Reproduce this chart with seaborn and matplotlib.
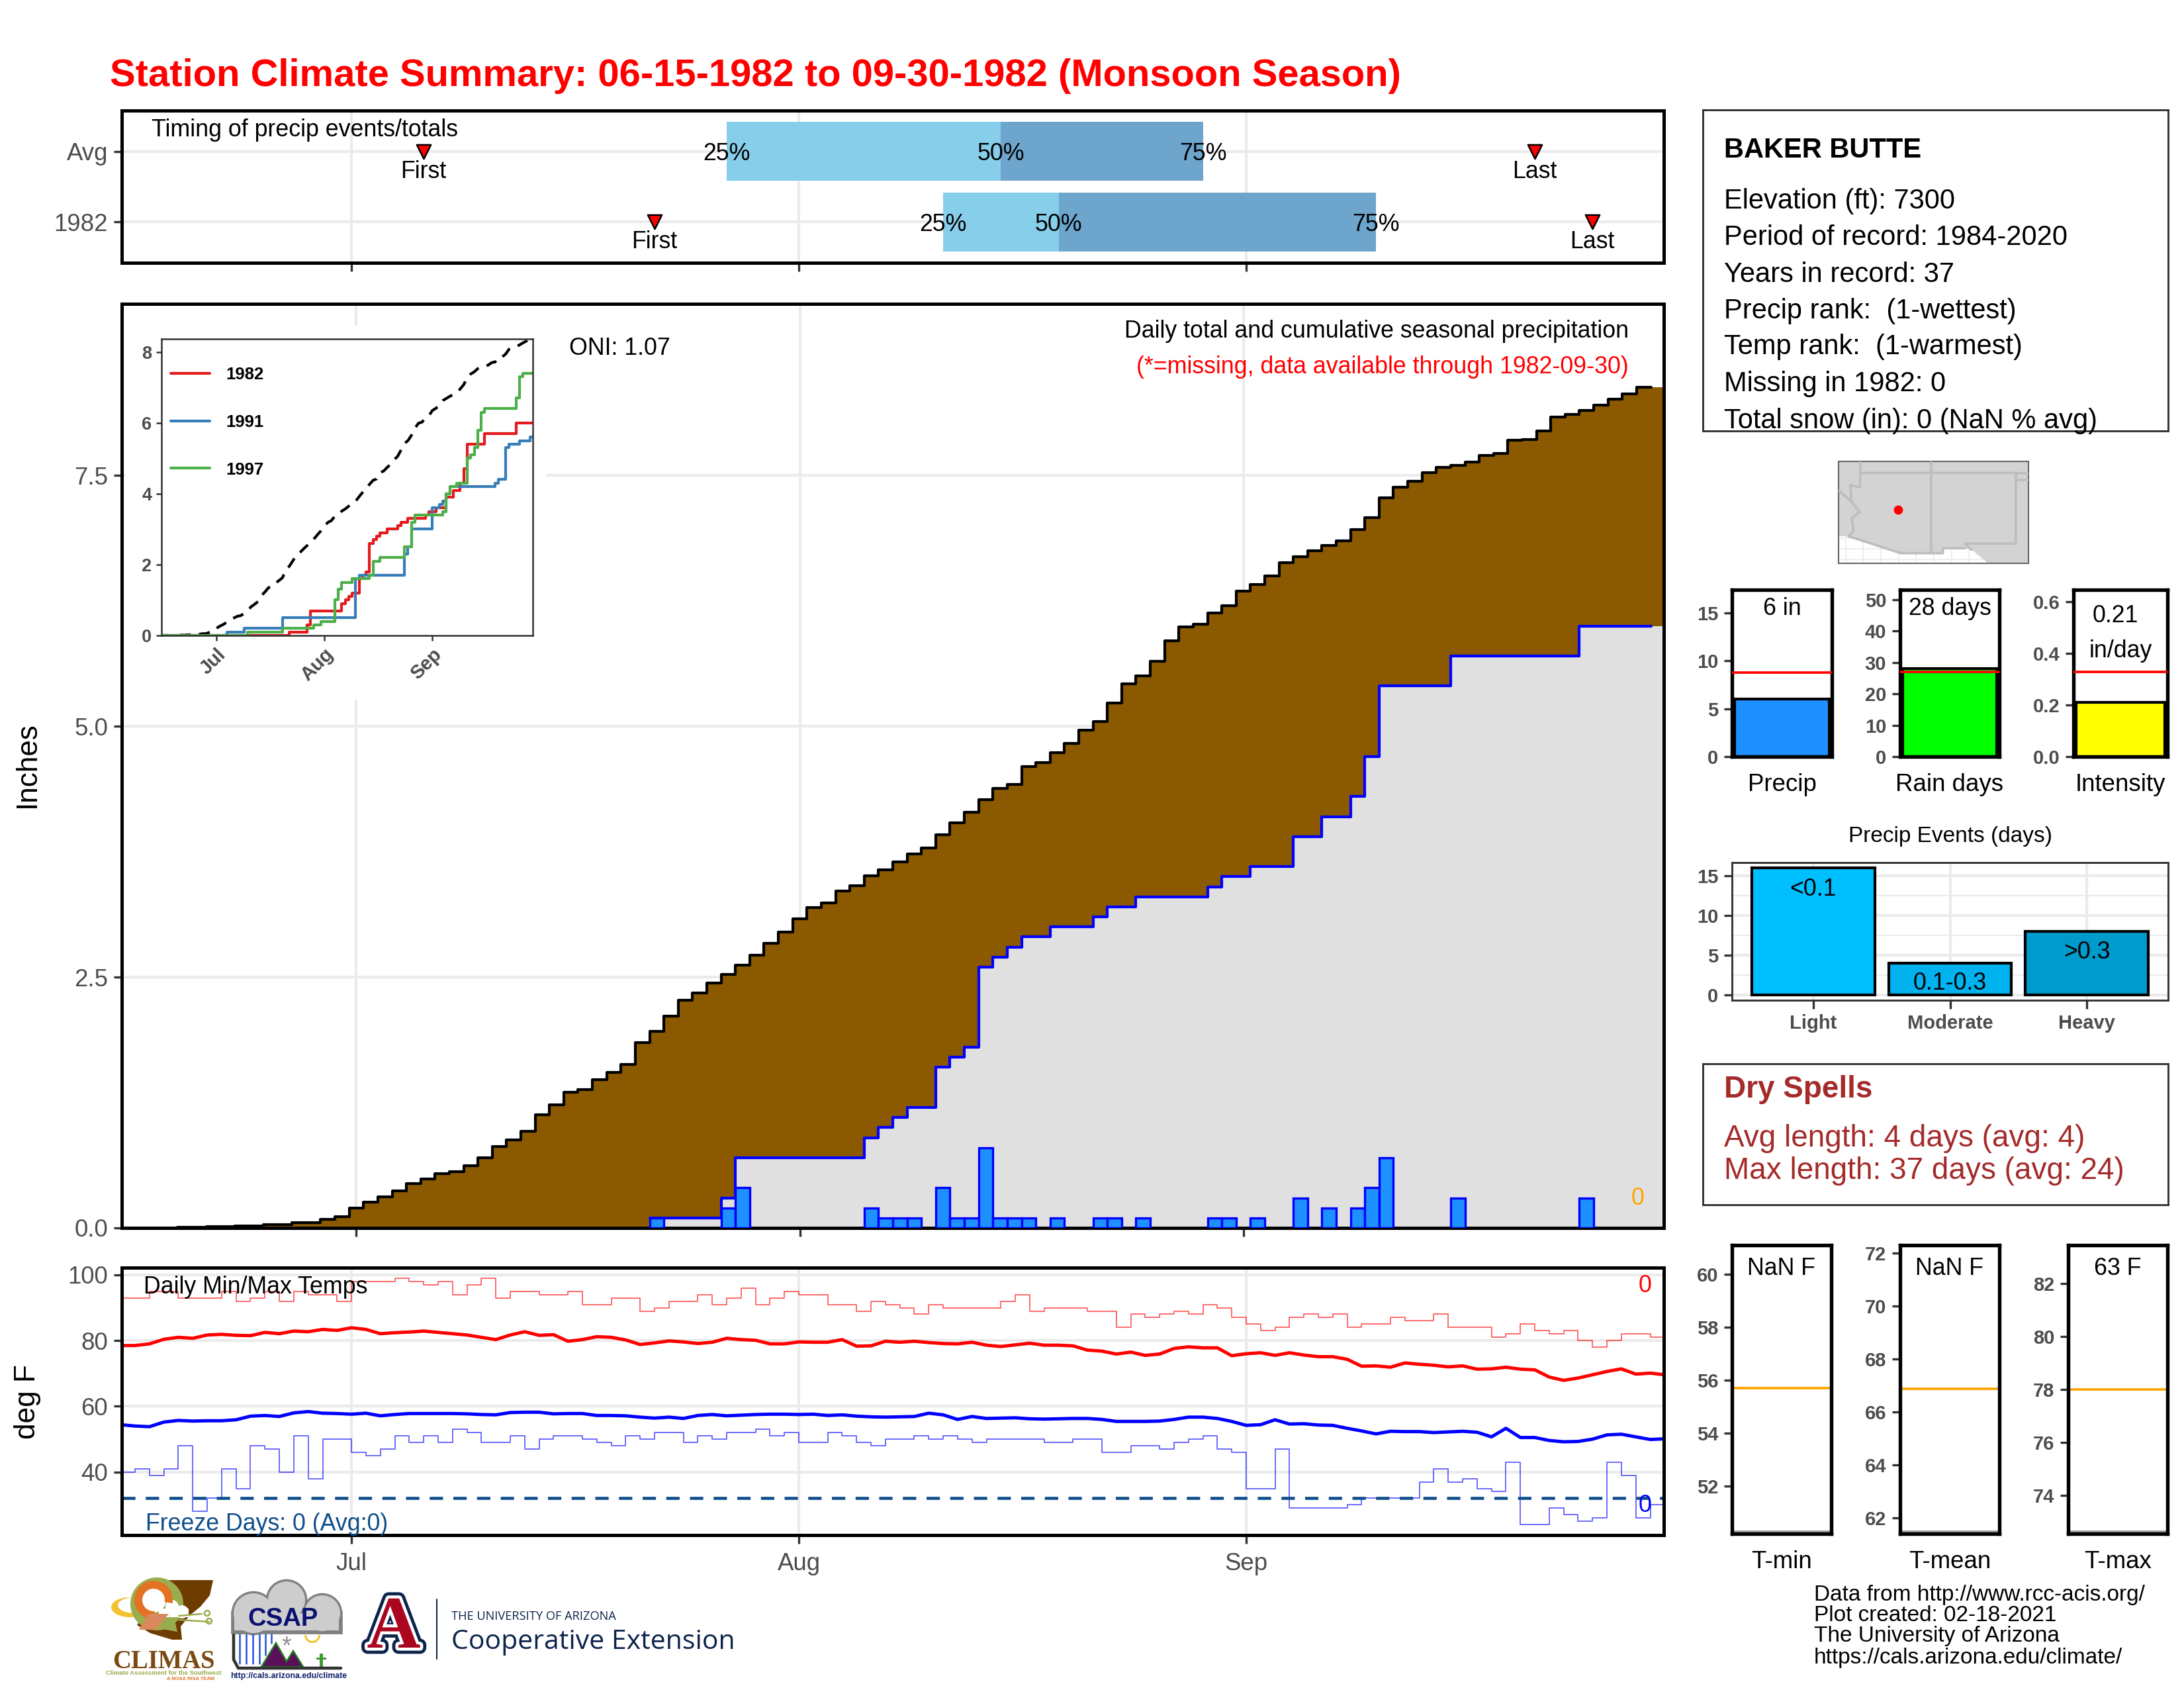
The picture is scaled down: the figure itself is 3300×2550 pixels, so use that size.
#Station climate summary for one monsoon season
import numpy as np
import pandas as pd
import matplotlib.pyplot as plt
import matplotlib.patheffects as pe
from matplotlib.patches import Circle, Ellipse, Polygon, Rectangle, Wedge
import seaborn as sns

#Season days, Jun 15 = day 0
days = np.arange(108)
month_ticks = [16, 47, 78]
month_labels = ["Jul", "Aug", "Sep"]

#Average cumulative precip (inches), one value per day
avg_cum = [0, 0, 0, 0, .005, .005, .01, .01, .02, .02,
           .035, .035, .05, .05, .085, .11, .20, .26, .31, .37,
           .44, .49, .54, .56, .62, .70, .81, .88, .96, 1.13,
           1.23, 1.35, 1.38, 1.48, 1.55, 1.63, 1.85, 1.96, 2.11, 2.27,
           2.34, 2.44, 2.53, 2.62, 2.72, 2.84, 2.95, 3.08, 3.19, 3.24,
           3.36, 3.41, 3.51, 3.57, 3.65, 3.73, 3.79, 3.92, 4.04, 4.14,
           4.27, 4.38, 4.42, 4.60, 4.64, 4.74, 4.83, 4.96, 5.05, 5.23,
           5.42, 5.50, 5.65, 5.85, 5.99, 6.02, 6.13, 6.20, 6.35, 6.41,
           6.50, 6.63, 6.69, 6.75, 6.80, 6.85, 6.96, 7.08, 7.28, 7.38,
           7.44, 7.53, 7.58, 7.60, 7.63, 7.70, 7.72, 7.85, 7.86, 7.94,
           8.08, 8.11, 8.15, 8.20, 8.26, 8.31, 8.38, 8.38]

#Daily precip for the three years in the inset
rain_days_1982 = [37, 42, 43, 52, 53, 54, 55, 57, 58, 59, 60, 61, 62, 63, 65, 68, 69, 71, 76, 77, 79, 82, 84, 86, 87, 88, 93, 102]
rain_amts_1982 = [.1, .2, .4, .2, .1, .1, .1, .4, .1, .1, .8, .1, .1, .1, .1, .1, .1, .1, .1, .1, .1, .3, .2, .2, .4, .7, .3, .3]
rain_days_1991 = [19, 24, 35, 56, 57, 70, 71, 72, 78, 80, 81, 82, 83, 96, 97, 99, 100, 103, 106]
rain_amts_1991 = [.1, .1, .3, 1.1, .1, .6, .2, .5, .6, .1, .1, .2, .2, .1, .1, .9, .1, .1, .1]
rain_days_1997 = [25, 35, 44, 46, 50, 51, 52, 55, 60, 61, 63, 70, 72, 73, 81, 82, 83, 85, 88, 89, 90, 91, 92, 93, 102, 103, 104]
rain_amts_1997 = [.1, .1, .1, .1, .6, .3, .2, .1, .1, .4, .1, .3, .7, .2, .1, .5, .2, .1, .7, .1, .2, .5, .5, .1, .3, .6, .1]

#Daily temps (deg F)
tmax_daily = [93, 93, 95, 95, 93, 93, 93, 95, 92, 93, 95, 92, 95, 94, 94, 92,
              98, 98, 98, 99, 98, 97, 98, 94, 97, 99, 93, 95, 95, 94, 94, 95,
              91, 91, 93, 93, 89, 90, 92, 92, 94, 91, 93, 96, 91, 93, 95, 94,
              94, 91, 91, 89, 92, 91, 90, 88, 91, 90, 90, 90, 90, 92, 94, 89,
              90, 90, 90, 89, 89, 84, 88, 87, 88, 89, 88, 91, 90, 87, 85, 83,
              84, 87, 88, 87, 88, 84, 85, 85, 87, 86, 86, 88, 84, 84, 84, 81,
              82, 85, 83, 82, 83, 80, 78, 80, 82, 82, 81, 81]
tmin_daily = [40, 41, 39, 41, 48, 28, 32, 41, 35, 48, 47, 40, 51, 38, 50, 50,
              46, 45, 47, 51, 49, 51, 49, 53, 52, 49, 49, 51, 47, 50, 51, 51,
              50, 49, 48, 51, 50, 52, 52, 49, 51, 50, 52, 52, 53, 51, 52, 49,
              49, 52, 51, 49, 48, 50, 50, 51, 50, 51, 50, 49, 50, 50, 50, 50,
              49, 49, 50, 50, 46, 46, 48, 48, 47, 49, 50, 51, 47, 46, 35, 35,
              47, 29, 29, 29, 29, 30, 32, 32, 32, 32, 37, 41, 37, 38, 35, 34,
              43, 24, 24, 29, 27, 25, 26, 43, 39, 26, 30, 30]
tmax_avg = [78.5, 78.5, 79, 80.4, 81, 80.7, 81.7, 81.9, 81.6, 81.5,
            82.5, 82.1, 82.9, 82.7, 83.4, 83.1, 83.9, 83.4, 82.1, 82.4,
            82.6, 82.9, 82.5, 82.1, 81.7, 81, 80.3, 81.7, 82.7, 81.6,
            81.8, 79.8, 80.3, 81.2, 81, 80.2, 78.8, 79.3, 79.9, 79.6,
            79.1, 79.5, 80.7, 80.3, 80.1, 79, 79, 79.6, 79.5, 79.5,
            80.3, 78.3, 78.4, 79.8, 79.5, 79.8, 79.4, 79.1, 79, 79.5,
            78.6, 78.2, 78.7, 79.2, 78.6, 78.6, 78.4, 77.1, 76.8, 75.9,
            76.5, 75.5, 75.9, 77.6, 78.1, 77.8, 77.8, 75.4, 76, 76.3,
            75.5, 76.3, 75.6, 75.1, 75.1, 74.3, 72.2, 72.3, 71.9, 73.2,
            72.8, 72.5, 72, 72.3, 71.3, 71.4, 71.9, 71.3, 71.1, 68.9,
            67.9, 68.6, 69.6, 70.6, 71.4, 69.8, 70.1, 69.6]
tmin_avg = [54.4, 54, 53.8, 55.2, 55.7, 55.5, 55.6, 55.6, 55.9, 57,
            57.2, 56.9, 58, 58.4, 57.9, 57.8, 57.6, 57.9, 57.1, 57.5,
            57.8, 57.8, 57.8, 57.8, 57.7, 57.5, 57.4, 58.1, 58.2, 58.2,
            57.7, 57.8, 57.8, 57.2, 57.2, 57.1, 56.7, 56.4, 56.7, 56.3,
            57.2, 57.5, 57.1, 57.3, 57.5, 57.6, 57.6, 57.5, 57.6, 57.2,
            57.4, 57, 56.8, 56.7, 56.8, 56.9, 57.9, 57.4, 56, 56.9,
            56.3, 56.4, 56.5, 56.2, 56.1, 56.2, 56.3, 56.3, 56, 55.4,
            55.4, 55.4, 55.5, 56, 56.7, 56.7, 56.3, 55.4, 54.2, 54.4,
            55.9, 54.6, 54.7, 54.3, 54.2, 53.3, 52.5, 51.6, 52.4, 52.3,
            52.3, 52, 52.2, 52.4, 52.1, 50.7, 53.3, 50.5, 50.5, 49.6,
            49.2, 49.3, 50, 51.3, 51.5, 50.7, 49.9, 50.1]

#Timing of events: first, 25%, 50%, 75%, last
timing_names = ["1982", "Avg"]
timing_first = [37, 21]
timing_q25 = [57, 42]
timing_q50 = [65, 61]
timing_q75 = [87, 75]
timing_last = [102, 98]

#Station box text
station_lines = ["Elevation (ft): 7300", "Period of record: 1984-2020", "Years in record: 37",
                 "Precip rank:  (1-wettest)", "Temp rank:  (1-warmest)", "Missing in 1982: 0",
                 "Total snow (in): 0 (NaN % avg)"]

#Season total bars and their averages
precip_total, precip_avg = 6, 8.75
rain_total, rain_avg = 28, 26.9
intensity_total, intensity_avg = 0.21, 0.328

#Precip event counts
event_names = ["Light", "Moderate", "Heavy"]
event_counts = [16, 4, 8]
event_tags = ["<0.1", "0.1-0.3", ">0.3"]
event_colors = ["#00BFFF", "#00B2EE", "#009ACD"]

#Season mean temp lines
tmin_normal, tmean_normal, tmax_normal = 55.7, 66.87, 78.0

#Locator map outlines (lon, lat)
map_land_lon = [-115.65, -114.93, -111.21, -108.21, -108.21, -106.65, -106.17, -104.97, -102.1, -102.1, -115.65]
map_land_lat = [32.52, 32.52, 31.32, 31.32, 31.67, 31.67, 31.57, 30.6, 30.6, 37.82, 37.82]
map_lines = [
    ([-114.09, -114.09, -114.14, -114.81, -114.74], [37.82, 37.0, 35.99, 36.15, 35.2]),
    ([-115.65, -114.7, -114.14, -114.7, -114.58, -114.93], [35.77, 34.95, 34.25, 33.8, 32.9, 32.52]),
    ([-114.93, -111.21, -108.21, -108.21, -106.65], [32.52, 31.32, 31.32, 31.67, 31.67]),
    ([-109.05, -109.05], [37.82, 31.32]),
    ([-114.09, -103.0, -103.0, -106.65, -106.17], [37.0, 37.0, 32.0, 32.0, 31.57]),
    ([-103.0, -102.1], [36.5, 36.5]),
    ([-103.0, -102.1], [37.0, 36.95]),
]
station_lon, station_lat = -111.4, 34.4

W, H = 3300, 2550
GREY30 = "#4D4D4D"
GRID = "#EBEBEB"
FREEZE = "#104E8B"
TXT = "center_baseline"

sns.set_theme(style="white")
plt.rcParams["font.family"] = ["Liberation Sans", "DejaVu Sans"]

fig = plt.figure(figsize=(11, 8.5), dpi=300, facecolor="white")


#Axes placed by pixel box
def panel(l, t, r, b, edge="black", lw=1.2, z=1):
    ax = fig.add_axes([l / W, 1 - b / H, (r - l) / W, (b - t) / H], zorder=z)
    for s in ax.spines.values():
        s.set_visible(True)
        s.set_color(edge)
        s.set_linewidth(lw)
    ax.tick_params(left=True, bottom=True, length=3, width=0.8, color="#333333",
                   labelcolor=GREY30, labelsize=8.8, pad=2)
    ax.set_axisbelow(True)
    ax.set_xlabel("")
    ax.set_ylabel("")
    return ax


def season_ticks(ax, labels=False):
    ax.set_xticks(month_ticks)
    ax.set_xticklabels(month_labels if labels else [])
    ax.grid(True, color=GRID, lw=1)


def cumulative(rain_days, rain_amts):
    daily = np.zeros(len(days))
    daily[rain_days] = rain_amts
    return daily.cumsum()


#Timing strip
ax = panel(184, 167, 2514, 397)
season_ticks(ax)
for i in range(2):
    ax.barh(i, timing_q75[i] - timing_q25[i], left=timing_q25[i], height=0.84, color="#87CEEB", lw=0)
    ax.barh(i, timing_q75[i] - timing_q50[i], left=timing_q50[i], height=0.84, color="#6DA5CC", lw=0)
    for x, s in zip([timing_q25[i], timing_q50[i], timing_q75[i]], ["25%", "50%", "75%"]):
        ax.text(x, i, s, ha="center", va=TXT, fontsize=8.6, color="black")
    ax.text(timing_first[i], i - 0.25, "First", ha="center", va=TXT, fontsize=8.6, color="black")
    ax.text(timing_last[i], i - 0.25, "Last", ha="center", va=TXT, fontsize=8.6, color="black")
sns.scatterplot(x=timing_first + timing_last, y=[0, 1, 0, 1], marker="v", s=26, color="red",
                edgecolor="black", linewidth=0.6, ax=ax, zorder=4)
ax.set_yticks([0, 1])
ax.set_yticklabels(timing_names)
ax.set_xlim(0.08, 106.94)
ax.set_ylim(-0.58, 1.58)

#Cumulative precip panel
avg_cum = np.array(avg_cum)
obs_cum = cumulative(rain_days_1982, rain_amts_1982)
edges = np.append(days - 0.5, 107.5)
ax = panel(184, 459, 2514, 1855)
season_ticks(ax)
ax.set_yticks([0, 2.5, 5, 7.5])
ax.set_yticklabels(["0.0", "2.5", "5.0", "7.5"])
ax.fill_between(edges, np.append(obs_cum, obs_cum[-1]), np.append(avg_cum, avg_cum[-1]), step="post",
                color="#8B5A00", lw=0, zorder=2)
ax.fill_between(edges, 0, np.append(obs_cum, obs_cum[-1]), step="post", color="#E0E0E0", lw=0, zorder=2)
sns.lineplot(x=days - 0.5, y=avg_cum, drawstyle="steps-post", color="black", lw=1, estimator=None, ax=ax, zorder=3)
#Observed line only starts with the first rain
sns.lineplot(x=days[37:] - 0.5, y=obs_cum[37:], drawstyle="steps-post", color="blue", lw=1, estimator=None, ax=ax, zorder=3)
rain_df = pd.DataFrame({"day": rain_days_1982, "amt": rain_amts_1982})
sns.barplot(data=rain_df, x="day", y="amt", native_scale=True, width=1, color="#1E90FF", saturation=1,
            edgecolor="blue", linewidth=0.8, ax=ax, zorder=4)
for p in ax.patches:
    p.set_zorder(4)
ax.set_xlabel("")
ax.set_ylabel("")
ax.set_xticks(month_ticks)
ax.set_xticklabels([])
ax.set_xlim(-0.4, 107.4)
ax.set_ylim(0, 9.21)

#Blank space behind the inset, hides the grid
blank = fig.add_axes([189 / W, 1 - 1057 / H, (825 - 189) / W, (1057 - 492) / H], zorder=2)
blank.set_axis_off()
blank.add_patch(Rectangle((0, 0), 1, 1, color="white", transform=blank.transAxes))

#Inset with the comparison years
ins = panel(244, 512, 805, 960, edge="#333333", lw=0.6, z=3)
sns.lineplot(x=days, y=avg_cum, color="black", lw=1, ls=(0, (4, 3)), estimator=None, ax=ins)
set1 = sns.color_palette("Set1")
inset_years = [("1982", rain_days_1982, rain_amts_1982), ("1991", rain_days_1991, rain_amts_1991),
               ("1997", rain_days_1997, rain_amts_1997)]
for k, (yr, rd, ra) in enumerate(inset_years):
    sns.lineplot(x=days, y=cumulative(rd, ra), drawstyle="steps-post", color=set1[k], lw=1, estimator=None, ax=ins)
    leg_y = 0.884 - k * 0.16
    ins.plot([0.025, 0.13], [leg_y, leg_y], color=set1[k], lw=1, transform=ins.transAxes)
    ins.text(0.174, leg_y, yr, transform=ins.transAxes, fontsize=6.2, fontweight="bold", color="black", va=TXT)
ins.set_xlim(0.3, 106.8)
ins.set_ylim(0, 8.37)
ins.set_xticks(month_ticks)
ins.set_xticklabels(month_labels, rotation=45, ha="right", rotation_mode="anchor", fontweight="bold", fontsize=7)
ins.set_yticks([0, 2, 4, 6, 8])
ins.set_yticklabels(["0", "2", "4", "6", "8"], fontweight="bold", fontsize=6.5)
ins.tick_params(length=2, width=0.6, pad=1.5)
ins.set_xlabel("")
ins.set_ylabel("")

#Temperature panel
ax = panel(184, 1915, 2514, 2319)
season_ticks(ax, labels=True)
ax.set_yticks([40, 60, 80, 100])
ax.tick_params(axis="x", pad=3.2)
sns.lineplot(x=days, y=tmax_daily, drawstyle="steps-post", color="red", alpha=0.6, lw=0.45, estimator=None, ax=ax)
sns.lineplot(x=days, y=tmin_daily, drawstyle="steps-post", color="blue", alpha=0.6, lw=0.45, estimator=None, ax=ax)
sns.lineplot(x=days, y=tmax_avg, color="red", lw=1.2, estimator=None, ax=ax)
sns.lineplot(x=days, y=tmin_avg, color="blue", lw=1.2, estimator=None, ax=ax)
ax.axhline(32, color=FREEZE, lw=1.1, ls=(0, (4.4, 3.4)))
ax.set_xlim(0.08, 106.94)
ax.set_ylim(20.8, 102.2)
ax.set_xlabel("")
ax.set_ylabel("")

#Station box and dry spell box
for box_t, box_b in [(166, 651), (1607, 1820)]:
    panel(2573, box_t, 3276, box_b, edge="#333333", lw=0.7).tick_params(left=False, bottom=False, labelleft=False, labelbottom=False)

#Locator map
ax = panel(2778, 697, 3065, 851, edge="#666666", lw=0.5)
ax.tick_params(left=False, bottom=False, labelleft=False, labelbottom=False)
ax.set_xticks(np.arange(-115.15, -102, 1.26))
ax.set_yticks([30.9, 31.65, 32.4])
ax.grid(True, color=GRID, lw=0.4)
ax.fill(map_land_lon, map_land_lat, color="#D3D3D3", lw=0, zorder=2)
for lon, lat in map_lines:
    sns.lineplot(x=lon, y=lat, sort=False, estimator=None, color="#BEBEBE", lw=0.9, ax=ax, zorder=3)
sns.scatterplot(x=[station_lon], y=[station_lat], color="red", s=11, linewidth=0, ax=ax, zorder=4)
ax.set_xlim(-115.65, -102.1)
ax.set_ylim(30.6, 37.82)


#Season total bars: one bar, its average line and a caption under it
def total_bar(box, name, value, normal, color, ylim, yticks, ticklabels=None):
    ax = panel(*box, lw=1.3)
    sns.barplot(x=[name], y=[value], width=0.9, color=color, saturation=1, edgecolor="black", linewidth=1, ax=ax)
    ax.axhline(normal, color="red", lw=0.9, zorder=5)
    ax.set_xlim(-0.476, 0.476)
    ax.set_ylim(*ylim)
    ax.set_yticks(yticks)
    ax.set_yticklabels(ticklabels if ticklabels else [str(t) for t in yticks], fontweight="bold", fontsize=7)
    ax.tick_params(axis="x", length=0, labelcolor="black", labelsize=8.8, pad=6)
    ax.tick_params(axis="y", length=3)
    return ax


ax = total_bar((2617, 891, 2768, 1143), "Precip", precip_total, precip_avg, "#1E90FF", (0, 17.4), [0, 5, 10, 15])
ax.text(0, 15.7, "6 in", ha="center", va=TXT, fontsize=8.6, color="black")
ax = total_bar((2871, 891, 3021, 1143), "Rain days", rain_total, rain_avg, "#00FF00", (0, 53.1), [0, 10, 20, 30, 40, 50])
ax.text(0, 48, "28 days", ha="center", va=TXT, fontsize=8.6, color="black")
ax = total_bar((3133, 891, 3275, 1143), "Intensity", intensity_total, intensity_avg, "#FFFF00", (0, 0.646),
               [0, 0.2, 0.4, 0.6], ["0.0", "0.2", "0.4", "0.6"])
ax.text(-0.05, 0.554, "0.21", ha="center", va=TXT, fontsize=8.6, color="black")
ax.text(0, 0.419, "in/day", ha="center", va=TXT, fontsize=8.6, color="black")

#Precip events
ax = panel(2617, 1303, 3276, 1511, edge="#333333", lw=0.7)
sns.barplot(x=event_names, y=event_counts, hue=event_names, palette=event_colors, legend=False, width=0.9,
            saturation=1, edgecolor="black", linewidth=1, ax=ax)
ax.set_xlim(-0.595, 2.595)
ax.set_ylim(-0.69, 16.7)
ax.set_yticks([0, 5, 10, 15])
ax.set_yticks([2.5, 7.5, 12.5], minor=True)
ax.grid(True, which="major", color=GRID, lw=1)
ax.grid(True, which="minor", axis="y", color=GRID, lw=0.5)
ax.tick_params(which="minor", left=False)
ax.tick_params(labelsize=7, length=3)
for lab in ax.get_xticklabels() + ax.get_yticklabels():
    lab.set_fontweight("bold")
for i, (tag, y) in enumerate(zip(event_tags, [13.67, 1.75, 5.74])):
    ax.text(i, y, tag, ha="center", va=TXT, fontsize=8.6, color="black")


#Season temp panels
def temp_box(box, name, tag, normal, ylim, yticks):
    ax = panel(*box, lw=1.3)
    ax.axhline(normal, color="orange", lw=0.9)
    ax.axhline(ylim[0] + 0.08, color="#999999", lw=0.9)
    ax.set_xlim(-0.5, 0.5)
    ax.set_ylim(*ylim)
    ax.set_yticks(yticks)
    ax.set_yticklabels([str(t) for t in yticks], fontweight="bold", fontsize=7)
    ax.set_xticks([0])
    ax.set_xticklabels([name])
    ax.tick_params(axis="x", length=0, labelcolor="black", labelsize=8.8, pad=6)
    ax.text(0, ylim[1] - 0.78, tag, ha="center", va=TXT, fontsize=8.6, color="black")


temp_box((2617, 1881, 2767, 2317), "T-min", "NaN F", tmin_normal, (50.2, 61.1), [52, 54, 56, 58, 60])
temp_box((2871, 1881, 3021, 2317), "T-mean", "NaN F", tmean_normal, (61.4, 72.3), [62, 64, 66, 68, 70, 72])
temp_box((3125, 1881, 3275, 2317), "T-max", "63 F", tmax_normal, (72.55, 83.45), [74, 76, 78, 80, 82])

#Overlay in picture pixels for the free text and logos
top = fig.add_axes([0, 0, 1, 1], zorder=10)
top.set_xlim(0, W)
top.set_ylim(H, 0)
top.set_axis_off()
top.patch.set_alpha(0)


def label(x, y, s, size=8.6, color="black", **kw):
    kw.setdefault("va", TXT)
    top.text(x, y, s, fontsize=size, color=color, **kw)


label(166, 109, "Station Climate Summary: 06-15-1982 to 09-30-1982 (Monsoon Season)", size=13.9, color="red", fontweight="bold")
label(41, 1155, "Inches", size=10.6, rotation=90, ha="center", va="center")
label(41, 2117, "deg F", size=10.6, rotation=90, ha="center", va="center")
label(229, 192, "Timing of precip events/totals")
label(860, 523, "ONI: 1.07")
label(2461, 497, "Daily total and cumulative seasonal precipitation", ha="right")
label(2461, 550, "(*=missing, data available through 1982-09-30)", color="red", ha="right")
label(2475, 1806, "0", color="orange", ha="center")
label(217, 1940, "Daily Min/Max Temps")
label(220, 2299, "Freeze Days: 0 (Avg:0)", color=FREEZE)
label(2486, 1939, "0", color="red", ha="center")
label(2486, 2270, "0", color="blue", ha="center")
label(2947, 1260, "Precip Events (days)", size=8, ha="center")

label(2605, 222, "BAKER BUTTE", size=10, fontweight="bold")
for line, y in zip(station_lines, [299, 354, 410, 465, 520, 576, 631]):
    label(2605, y, line, size=10)
label(2605, 1641, "Dry Spells", size=11, color="#A52A2A", fontweight="bold")
label(2605, 1715, "Avg length: 4 days (avg: 4)", size=11, color="#A52A2A")
label(2605, 1764, "Max length: 37 days (avg: 24)", size=11, color="#A52A2A")

for line, y in zip(["Data from http://www.rcc-acis.org/", "Plot created: 02-18-2021", "The University of Arizona",
                    "https://cals.arizona.edu/climate/"], [2406, 2437, 2468, 2501]):
    label(2741, y, line, size=8)

#CLIMAS logo
BROWN = "#6F3C00"
OLIVE = "#9AAD4E"
top.add_patch(Ellipse((196, 2428), 56, 30, color="#F2C230", lw=0))
top.add_patch(Ellipse((204, 2425), 52, 24, color="white", lw=0))
top.add_patch(Polygon([(253, 2387), (322, 2387), (317, 2410), (303, 2427), (287, 2440), (273, 2457), (275, 2477),
                       (260, 2477), (227, 2467), (207, 2455)], color=BROWN, lw=0))
top.add_patch(Circle((237, 2423), 40, color=OLIVE, lw=0))
top.add_patch(Polygon([(215, 2455), (262, 2440), (268, 2465), (240, 2460)], color=OLIVE, lw=0))
top.add_patch(Circle((232, 2417), 19, color="white", lw=0))
top.add_patch(Circle((260, 2427), 10, color="white", lw=0))
top.add_patch(Circle((275, 2435), 10, color="white", lw=0))
top.add_patch(Rectangle((240, 2430), 45, 13, color="white", lw=0))
top.add_patch(Wedge((232, 2417), 29, 85, 370, width=12, color="#E37222", lw=0))
top.add_patch(Polygon([(224, 2438), (255, 2438), (235, 2462), (210, 2462)], color="#D9895B", lw=0))
top.plot([270, 305], [2441, 2438], color=OLIVE, lw=0.6)
top.plot([270, 316], [2447, 2450], color=OLIVE, lw=0.6)
top.add_patch(Circle((313, 2437), 4, fill=False, ec=OLIVE, lw=0.6))
top.add_patch(Circle((316, 2449), 4, fill=False, ec=OLIVE, lw=0.6))
label(247, 2506, "CLIMAS", size=9.3, color="#7A4A12", ha="center", family="Liberation Serif", fontweight="bold")
label(247, 2526, "Climate Assessment for the Southwest", size=2.25, color=OLIVE, ha="center", fontweight="bold")
label(324, 2535, "A NOAA RISA TEAM", size=1.8, color="#E37222", ha="right", fontweight="bold")

#CSAP logo, edges first then fills so one outline stays
cloud_fill = "#CDCDCD"
cloud_parts = [((383, 2437), 30), ((433, 2417), 28), ((487, 2437), 27)]
for c, r in cloud_parts:
    top.add_patch(Circle(c, r, fc="#808080", ec="#808080", lw=1.6))
top.add_patch(Rectangle((352, 2437), 162, 28, fc="#808080", ec="#808080", lw=1.6))
for c, r in cloud_parts:
    top.add_patch(Circle(c, r, fc=cloud_fill, lw=0))
top.add_patch(Rectangle((354, 2437), 158, 26, fc=cloud_fill, lw=0))
label(428, 2442, "CSAP", size=9.2, color="#0A1172", ha="center", fontweight="bold")
for x, y_end in zip([362, 372, 382, 392, 401, 410], [2513, 2513, 2513, 2513, 2500, 2482]):
    top.plot([x, x], [2469, y_end], color="#2050E0", lw=0.6)
top.plot([353, 353, 360, 515], [2470, 2507, 2520, 2520], color="#333333", lw=1.1)
top.add_patch(Polygon([(395, 2518), (417, 2482), (433, 2510), (443, 2494), (458, 2518)], fc="#5B0F5B", ec="#1E7B1E", lw=0.6))
top.add_patch(Wedge((472, 2470), 12, 0, 180, width=3, color="#F2C230", lw=0))
top.add_patch(Rectangle((483, 2498), 5, 20, color="#3E9B2F", lw=0))
top.add_patch(Rectangle((478, 2504), 15, 3, color="#3E9B2F", lw=0))
label(433, 2484, "*", size=9, color="#909090", ha="center")
label(436, 2531, "http://cals.arizona.edu/climate", size=2.95, color="#0C1F6B", ha="center", fontweight="bold")

#University block A and wordmark
block_a = top.text(595, 2462, "A", fontsize=27, color="#AB0520", ha="center", va="center", family="Liberation Serif", fontweight="bold")
block_a.set_path_effects([pe.Stroke(linewidth=4.5, foreground="#0C234B"), pe.Stroke(linewidth=2.2, foreground="white"), pe.Normal()])
top.plot([660, 660], [2416, 2506], color="#0C234B", lw=0.5)
label(682, 2440, "THE UNIVERSITY OF ARIZONA", size=4.4, color="#0C234B", family="Open Sans")
label(682, 2476, "Cooperative Extension", size=9.85, color="#0C234B", family="Open Sans")

fig.savefig("out.png", dpi=300)
